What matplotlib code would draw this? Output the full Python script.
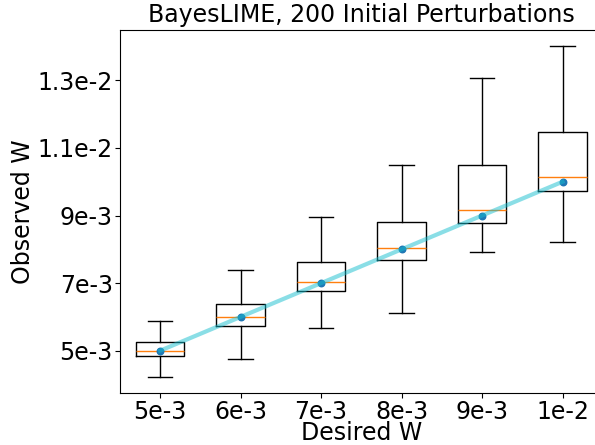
import matplotlib
matplotlib.use("Agg")
import matplotlib.pyplot as plt
import numpy as np

# desired W for each run, and the observed W spread
desired = [0.005, 0.006, 0.007, 0.008, 0.009, 0.010]
x_labels = ["5e-3", "6e-3", "7e-3", "8e-3", "9e-3", "1e-2"]
whislo = [4.22e-3, 4.75e-3, 5.68e-3, 6.11e-3, 7.91e-3, 8.21e-3]
q1 = [4.83e-3, 5.74e-3, 6.76e-3, 7.68e-3, 8.79e-3, 9.73e-3]
med = [5.00e-3, 6.00e-3, 7.02e-3, 8.03e-3, 9.16e-3, 10.14e-3]
q3 = [5.25e-3, 6.38e-3, 7.63e-3, 8.82e-3, 10.49e-3, 11.46e-3]
whishi = [5.89e-3, 7.38e-3, 8.96e-3, 10.51e-3, 13.06e-3, 14.02e-3]

y_ticks = [0.005, 0.007, 0.009, 0.011, 0.013]
y_labels = ["5e-3", "7e-3", "9e-3", "1.1e-2", "1.3e-2"]

stats = []
for i in range(len(desired)):
    stats.append(dict(whislo=whislo[i], q1=q1[i], med=med[i], q3=q3[i],
                      whishi=whishi[i], fliers=[]))

fig = plt.figure(figsize=(5.95, 4.45), dpi=100)
ax = fig.add_axes([0.2013, 0.1169, 0.8118, 0.8157])

pos = np.arange(1, len(desired) + 1)
ax.bxp(stats, positions=pos, widths=0.6, showfliers=False)

ax.scatter(pos, desired, s=22, color="tab:blue", zorder=3)
ax.plot(pos, desired, color="tab:cyan", alpha=0.5, linewidth=3, zorder=4)

ax.set_xticks(pos)
ax.set_xticklabels(x_labels)
ax.set_yticks(y_ticks)
ax.set_yticklabels(y_labels)
ax.set_xlim(0.5, 6.5)
ax.set_ylim(0.00375, 0.01449)
ax.tick_params(labelsize=17, pad=1.5)

ax.set_xlabel("Desired W", fontsize=17, labelpad=-2)
ax.set_ylabel("Observed W", fontsize=17, labelpad=2)
ax.set_title("BayesLIME, 200 Initial Perturbations", fontsize=17)

fig.savefig("out.png", dpi=100)
